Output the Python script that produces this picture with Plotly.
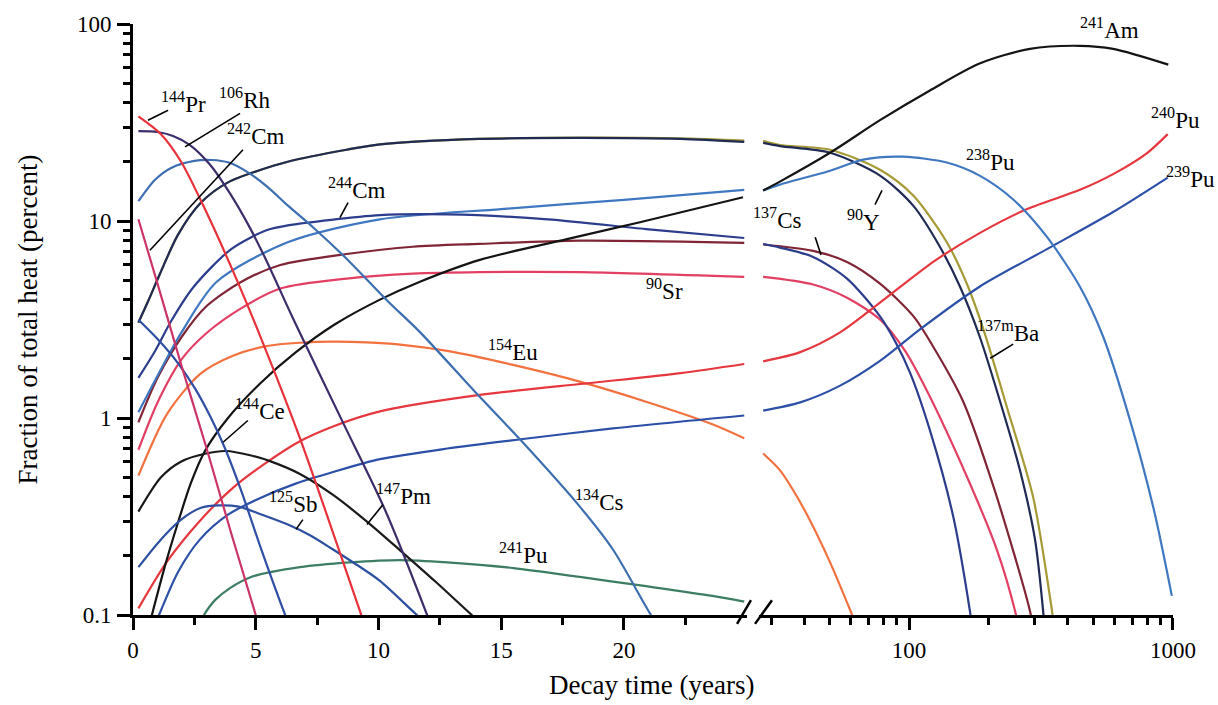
import math
import plotly.graph_objects as go

# Decay heat contribution of individual nuclides (percent of total heat)
# Left panel: 0-25 years on a linear time axis; right panel: 27-1000 years on a log axis.

# ---------------- left panel (years, percent) ----------------
PR144_T = [0.22, 1.14, 1.96, 2.93, 4.07, 5.25, 6.8, 9.3, 10.5]
PR144_V = [34, 27.6, 20.0, 11.5, 5.58, 2.48, 0.79, 0.1, 0.037]

RH106_T = [0.22, 1.0, 1.63, 2.32, 3.14, 3.95, 4.77, 5.46, 6.52, 8.55, 10.26, 11.98, 13.0]
RH106_V = [28.6, 28.3, 27.0, 24.3, 19.3, 13.8, 9.2, 6.2, 3.2, 0.95, 0.343, 0.1, 0.045]

CS134_T = [0.22, 0.9, 1.55, 2.5, 3.2, 3.9, 4.7, 5.5, 6.3, 7.33, 8.72, 10.35, 11.7, 14.0, 15.8, 18.2, 19.55, 21.1, 22.0]
CS134_V = [12.6, 16.2, 18.6, 20.2, 20.4, 19.8, 17.6, 14.8, 12.0, 9.3, 6.4, 3.95, 2.72, 1.33, 0.77, 0.355, 0.215, 0.1, 0.068]

CM242_T = [0.22, 1.0, 2.0, 3.0, 4.0, 5.0, 5.5]
CM242_V = [10.2, 4.8, 1.8, 0.7, 0.26, 0.1, 0.06]

CE144_T = [0.22, 1.02, 1.83, 2.53, 3.18, 3.75, 4.4, 5.2, 6.2, 6.8]
CE144_V = [3.15, 2.5, 1.9, 1.41, 1.0, 0.70, 0.43, 0.22, 0.1, 0.065]

PM147_T = [0.22, 1.14, 1.95, 2.97, 3.8, 4.77, 5.58, 6.8, 8.15, 9.53, 10.88, 12.34, 13.8, 14.5]
PM147_V = [0.335, 0.50, 0.60, 0.66, 0.68, 0.647, 0.604, 0.52, 0.407, 0.298, 0.213, 0.147, 0.1, 0.084]

SB125_T = [0.22, 1.14, 1.96, 2.77, 3.5, 4.3, 5.2, 6.31, 7.21, 8.15, 9.08, 10.06, 11.49, 12.2]
SB125_V = [0.175, 0.242, 0.305, 0.35, 0.36, 0.355, 0.325, 0.288, 0.254, 0.215, 0.181, 0.149, 0.102, 0.085]

PU241_T = [2.5, 2.89, 3.34, 3.95, 4.81, 6.8, 8.84, 10.88, 12.8, 15.5, 18.2, 20.9, 23.6, 24.9]
PU241_V = [0.08, 0.1, 0.119, 0.137, 0.156, 0.175, 0.185, 0.19, 0.185, 0.173, 0.156, 0.14, 0.125, 0.117]

AM241_T = [0.5, 0.77, 1.3, 1.83, 2.36, 2.93, 3.87, 5.21, 6.6, 8.23, 10.06, 11.69, 14.13, 17.68, 20.65, 24.85]
AM241_V = [0.074, 0.1, 0.177, 0.294, 0.468, 0.68, 1.0, 1.51, 2.14, 2.99, 3.99, 4.92, 6.35, 8.09, 9.86, 13.2]

PU239_T = [0.6, 1.06, 1.83, 2.73, 3.87, 5.21, 6.6, 8.15, 10.06, 12.8, 15.8, 19.55, 24.9]
PU239_V = [0.072, 0.1, 0.165, 0.242, 0.323, 0.394, 0.463, 0.532, 0.618, 0.70, 0.78, 0.885, 1.03]

PU240_T = [0.22, 1.39, 2.73, 4.07, 5.46, 6.8, 8.15, 10.06, 14.13, 18.74, 22.3, 24.9]
PU240_V = [0.108, 0.187, 0.301, 0.442, 0.597, 0.762, 0.906, 1.08, 1.31, 1.51, 1.69, 1.88]

EU154_T = [0.22, 1.39, 2.73, 4.07, 5.46, 6.8, 8.15, 9.53, 10.88, 12.8, 15.48, 18.2, 20.9, 23.6, 24.9]
EU154_V = [0.51, 1.05, 1.67, 2.07, 2.32, 2.41, 2.44, 2.42, 2.36, 2.19, 1.86, 1.53, 1.21, 0.93, 0.79]

Y90_T = [0.22, 0.61, 1.1, 1.83, 2.77, 3.87, 5.21, 6.3, 8.7, 10.06, 14.1, 18.2, 22.3, 24.9]
Y90_V = [3.05, 3.9, 5.4, 8.5, 12.4, 15.7, 18.2, 20.0, 23.0, 24.5, 26.1, 26.4, 26.1, 25.2]

BA137M_T = [0.22, 0.61, 1.1, 1.83, 2.77, 3.87, 5.21, 6.3, 8.7, 10.06, 14.1, 18.2, 22.3, 24.9]
BA137M_V = [3.05, 3.9, 5.4, 8.5, 12.4, 15.7, 18.2, 20.0, 23.0, 24.5, 26.1, 26.5, 26.3, 25.6]

CM244_T = [0.22, 0.9, 1.55, 2.45, 4.0, 5.46, 6.3, 10.06, 12.8, 16.9, 20.9, 24.9]
CM244_V = [1.6, 2.19, 3.1, 4.6, 7.2, 9.0, 9.5, 10.7, 10.8, 10.2, 9.1, 8.2]

PU238_T = [0.22, 1.0, 2.0, 3.4, 6.3, 10.06, 15.0, 20.0, 24.9]
PU238_V = [1.07, 1.64, 2.75, 4.9, 7.8, 10.2, 11.5, 12.8, 14.4]

CS137_T = [0.22, 1.0, 2.0, 3.0, 4.4, 6.0, 8.7, 11.4, 14.1, 18.2, 24.9]
CS137_V = [0.95, 1.6, 2.6, 3.7, 4.9, 5.98, 6.8, 7.4, 7.65, 7.95, 7.75]

SR90_T = [0.22, 1.0, 2.0, 3.0, 4.4, 6.0, 8.7, 11.4, 14.1, 18.2, 24.9]
SR90_V = [0.69, 1.2, 2.0, 2.7, 3.6, 4.54, 5.1, 5.4, 5.5, 5.5, 5.2]

# ---------------- right panel (years, percent) ----------------
AM241_RT = [28, 32.4, 50.2, 77.6, 120, 185, 287, 444, 593, 960]
AM241_RV = [14.3, 15.85, 22.2, 32.5, 46, 63, 74.8, 77.5, 74.8, 62.2]

PU238_RT = [28, 32.4, 50.2, 67, 95, 139, 185, 247.5, 333, 444, 543, 688, 846, 990]
PU238_RV = [14.3, 15.3, 18.0, 20.5, 21.2, 19.8, 17.0, 12.9, 8.3, 4.64, 2.6, 0.97, 0.343, 0.125]

CM244_RT = [28, 32.4, 43.3, 58.2, 77.6, 88.5, 101, 120, 147, 170, 180]
CM244_RV = [7.64, 7.33, 6.57, 5.1, 3.28, 2.45, 1.69, 0.865, 0.316, 0.105, 0.06]

CS137_RT = [28, 43.3, 58.2, 77.6, 104, 123, 160, 211, 287, 300]
CS137_RV = [7.6, 7.05, 6.2, 4.81, 3.28, 2.32, 1.22, 0.43, 0.105, 0.075]

SR90_RT = [28, 43.3, 58.2, 77.6, 96.6, 117, 166, 215, 252, 265]
SR90_RV = [5.2, 4.76, 4.08, 3.16, 2.19, 1.37, 0.50, 0.215, 0.105, 0.075]

Y90_RT = [28, 32.4, 50.2, 77.6, 103.5, 131, 156, 185, 221, 263, 300, 322, 330]
Y90_RV = [24.9, 24.0, 22.2, 17.0, 12.0, 7.38, 4.64, 2.6, 1.22, 0.544, 0.242, 0.105, 0.07]

BA137M_RT = [28, 32.4, 50.2, 77.6, 103.5, 139, 166, 194, 235, 295, 348, 360]
BA137M_RV = [25.5, 24.3, 23.0, 18.2, 13.5, 7.8, 4.76, 2.66, 1.13, 0.398, 0.105, 0.075]

EU154_RT = [28, 32.4, 36.4, 41.4, 50.2, 59.8, 65]
EU154_RV = [0.66, 0.544, 0.43, 0.316, 0.185, 0.106, 0.08]

PU240_RT = [28, 38.7, 54.8, 77.6, 125, 185, 280, 444, 593, 800, 955]
PU240_RV = [1.94, 2.16, 2.72, 3.85, 6.27, 8.68, 11.5, 14.4, 17.3, 22.2, 27.6]

PU239_RT = [28, 38.7, 54.8, 77.6, 110, 185, 333, 593, 955]
PU239_RV = [1.09, 1.2, 1.46, 1.95, 2.82, 4.64, 7.2, 11.1, 16.6]

# ---------------- axis ticks ----------------
LEFT_TICKS = [0, 5, 10, 15, 20]
LEFT_MINOR = [2.5, 7.5, 12.5, 17.5, 22.5]
RIGHT_TICKS = [100, 1000]
RIGHT_MINOR = [30, 40, 50, 60, 70, 80, 90, 200, 300, 400, 500, 600, 700, 800, 900]
Y_TICKS = [0.1, 1, 10, 100]
Y_TICK_TEXT = ["0.1", "1", "10", "100"]
Y_MINOR = [m * d for d in (0.1, 1, 10) for m in range(2, 10)]

# ---------------- line colours ----------------
C = {
    "Pr144": "#e8313a", "Rh106": "#3d2d6b", "Cs134": "#3c6eb0", "Cm242": "#cc3366",
    "Ce144": "#2f4fa5", "Pm147": "#1a1a1a", "Sb125": "#2c4fa0", "Pu241": "#3d7d63",
    "Am241": "#141414", "Pu239": "#2c50a8", "Pu240": "#e6373f", "Eu154": "#f2713f",
    "Y90": "#1f2b55", "Ba137m": "#a59a35", "Cm244": "#2b3d8c", "Pu238": "#3f78c0",
    "Cs137": "#802535", "Sr90": "#e23f63",
}

left_series = [
    ("Ba137m", BA137M_T, BA137M_V), ("Y90", Y90_T, Y90_V),
    ("Sr90", SR90_T, SR90_V), ("Cs137", CS137_T, CS137_V),
    ("Pu238", PU238_T, PU238_V), ("Cm244", CM244_T, CM244_V),
    ("Eu154", EU154_T, EU154_V), ("Pu240", PU240_T, PU240_V),
    ("Pu239", PU239_T, PU239_V), ("Am241", AM241_T, AM241_V),
    ("Pu241", PU241_T, PU241_V), ("Sb125", SB125_T, SB125_V),
    ("Pm147", PM147_T, PM147_V), ("Ce144", CE144_T, CE144_V),
    ("Cm242", CM242_T, CM242_V), ("Cs134", CS134_T, CS134_V),
    ("Rh106", RH106_T, RH106_V), ("Pr144", PR144_T, PR144_V),
]
right_series = [
    ("Ba137m", BA137M_RT, BA137M_RV), ("Y90", Y90_RT, Y90_RV),
    ("Sr90", SR90_RT, SR90_RV), ("Cs137", CS137_RT, CS137_RV),
    ("Cm244", CM244_RT, CM244_RV), ("Eu154", EU154_RT, EU154_RV),
    ("Pu240", PU240_RT, PU240_RV), ("Pu239", PU239_RT, PU239_RV),
    ("Pu238", PU238_RT, PU238_RV), ("Am241", AM241_RT, AM241_RV),
]

fig = go.Figure()
for name, t, v in left_series:
    fig.add_trace(go.Scatter(x=t, y=v, mode="lines", name=name, xaxis="x", yaxis="y",
                             line=dict(color=C[name], width=2.2, shape="spline", smoothing=0.8),
                             showlegend=False, hoverinfo="skip"))
for name, t, v in right_series:
    fig.add_trace(go.Scatter(x=t, y=v, mode="lines", name=name, xaxis="x2", yaxis="y",
                             line=dict(color=C[name], width=2.2, shape="spline", smoothing=0.8),
                             showlegend=False, hoverinfo="skip"))

FONT = "Liberation Serif, Times New Roman, serif"
TICKFONT = dict(family=FONT, size=23, color="black")

axis_common = dict(showgrid=False, zeroline=False, showline=True, linecolor="black",
                   linewidth=3, ticks="outside", tickcolor="black", tickwidth=2.5,
                   tickfont=TICKFONT)

fig.update_layout(
    width=1218, height=705,
    margin=dict(l=133, r=45, t=20, b=90),
    paper_bgcolor="white", plot_bgcolor="white",
    xaxis=dict(domain=[0, 0.5901], range=[0, 25], anchor="y",
               tickvals=LEFT_TICKS, ticklen=12,
               minor=dict(tickvals=LEFT_MINOR, ticks="outside", ticklen=7,
                          tickwidth=2.5, tickcolor="black"),
               **axis_common),
    xaxis2=dict(type="log", domain=[0.6019, 1], range=[math.log10(27), 3], anchor="y",
                tickvals=RIGHT_TICKS, ticktext=["100", "1000"], ticklen=12,
                minor=dict(tickvals=RIGHT_MINOR, ticks="outside", ticklen=7,
                           tickwidth=2.5, tickcolor="black"),
                **axis_common),
    yaxis=dict(type="log", range=[-1, 2], anchor="x",
               tickvals=Y_TICKS, ticktext=Y_TICK_TEXT, ticklen=13,
               ticklabelstandoff=1,
               minor=dict(tickvals=Y_MINOR, ticks="outside", ticklen=7,
                          tickwidth=2.5, tickcolor="black"),
               **axis_common),
)

# axis titles
fig.add_annotation(text="Decay time (years)", xref="paper", yref="paper",
                   x=0.499, y=-0.119, xanchor="center", yanchor="middle", showarrow=False,
                   font=dict(family=FONT, size=27, color="black"))
fig.add_annotation(text="Fraction of total heat (percent)", xref="paper", yref="paper",
                   x=-0.101, y=0.5, xanchor="center", yanchor="middle", textangle=-90,
                   showarrow=False, font=dict(family=FONT, size=27, color="black"))

# axis break marks on the time axis
for x0, x1 in [(0.5808, 0.5942), (0.5981, 0.6144)]:
    fig.add_shape(type="line", xref="paper", yref="paper", x0=x0, y0=-0.015, x1=x1, y1=0.025,
                  line=dict(color="black", width=2.5))

# nuclide labels: (text, axis, t, value, xshift in px)
LABELS = [
    ("<sup>144</sup>Pr", "x", 2.04, 40.0, 0),
    ("<sup>106</sup>Rh", "x", 4.56, 41.9, 0),
    ("<sup>242</sup>Cm", "x", 5.0, 27.6, 0),
    ("<sup>244</sup>Cm", "x", 9.12, 14.6, 0),
    ("<sup>90</sup>Sr", "x", 21.67, 4.49, 0),
    ("<sup>154</sup>Eu", "x", 15.48, 2.19, 0),
    ("<sup>144</sup>Ce", "x", 5.17, 1.10, 0),
    ("<sup>125</sup>Sb", "x", 6.52, 0.371, 0),
    ("<sup>147</sup>Pm", "x", 11.0, 0.407, 0),
    ("<sup>134</sup>Cs", "x", 19.0, 0.38, 0),
    ("<sup>241</sup>Pu", "x", 15.9, 0.206, 0),
    ("<sup>137</sup>Cs", "x2", 31.6, 10.3, 0),
    ("<sup>90</sup>Y", "x2", 67.0, 10.1, 0),
    ("<sup>241</sup>Am", "x2", 577, 94.4, 0),
    ("<sup>238</sup>Pu", "x2", 203, 20.2, 0),
    ("<sup>240</sup>Pu", "x2", 950, 33.2, 8),
    ("<sup>239</sup>Pu", "x2", 950, 16.6, 23),
    ("<sup>137m</sup>Ba", "x2", 237, 2.75, 0),
]
for text, xr, t, v, dx in LABELS:
    xpos = t if xr == "x" else math.log10(t)
    fig.add_annotation(text=text, xref=xr, yref="y", x=xpos, y=math.log10(v), xshift=dx,
                       showarrow=False, xanchor="center", yanchor="middle",
                       font=dict(family=FONT, size=23, color="black"))

# leader lines from labels to curves: (axis, t0, v0, t1, v1)
LEADERS = [
    ("x", 1.43, 36.5, 0.61, 32.5),
    ("x", 4.36, 35.2, 2.12, 23.8),
    ("x", 4.48, 23.0, 0.69, 7.1),
    ("x", 8.76, 12.4, 8.43, 10.4),
    ("x", 4.68, 0.971, 3.67, 0.753),
    ("x", 6.92, 0.305, 6.64, 0.272),
    ("x", 10.18, 0.363, 9.53, 0.288),
    ("x2", 44.1, 8.28, 46.4, 6.73),
    ("x2", 74.3, 12.1, 79.0, 14.3),
    ("x2", 248, 2.37, 203, 2.01),
]
for xr, t0, v0, t1, v1 in LEADERS:
    fig.add_shape(type="line", xref=xr, yref="y", x0=t0, y0=v0, x1=t1, y1=v1,
                  line=dict(color="black", width=1.6))

fig.write_html("out.html")
